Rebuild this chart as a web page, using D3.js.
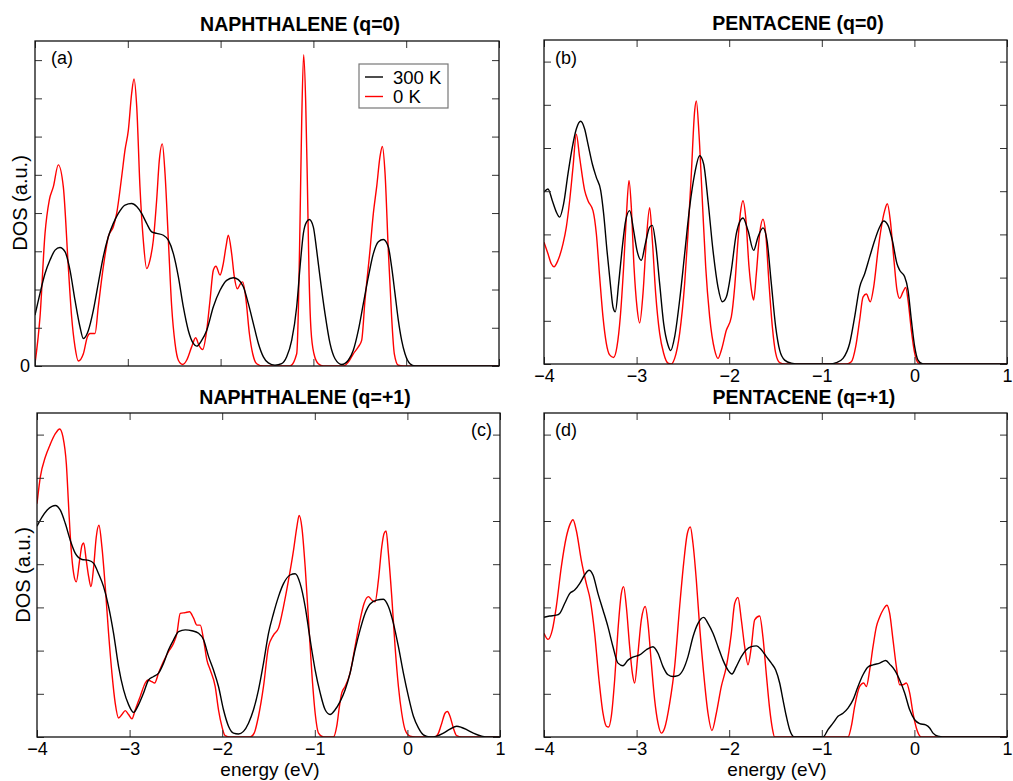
<!DOCTYPE html>
<html>
<head>
<meta charset="utf-8">
<script src="https://cdn.jsdelivr.net/npm/d3@7"></script>
<style>
  body { margin: 0; background: #fff; }
  svg { display: block; font-family: "Liberation Sans", Arial, sans-serif; }
</style>
</head>
<body>
<div id="chart"></div>
<script>
// energies (eV) and DOS (a.u.)

// (a) naphthalene q=0
const naph0_E300 = [-4.0,-3.946,-3.892,-3.838,-3.784,-3.731,-3.677,-3.623,-3.569,-3.515,-3.479,-3.425,-3.371,-3.318,-3.264,-3.21,-3.156,-3.102,-3.03,-2.958,-2.904,-2.851,-2.797,-2.743,-2.689,-2.617,-2.563,-2.509,-2.455,-2.402,-2.348,-2.294,-2.258,-2.204,-2.15,-2.078,-2.006,-1.935,-1.863,-1.809,-1.755,-1.701,-1.647,-1.593,-1.539,-1.486,-1.414,-1.342,-1.288,-1.234,-1.18,-1.144,-1.108,-1.073,-1.044,-1.001,-0.965,-0.929,-0.875,-0.821,-0.767,-0.695,-0.624,-0.57,-0.516,-0.462,-0.408,-0.354,-0.3,-0.246,-0.193,-0.157,-0.121,-0.085,-0.049,-0.013,0.041,0.095,1.0]
const naph0_D300 = [1.33,1.90,2.42,2.77,3.03,3.10,2.99,2.51,1.72,1.02,0.72,0.93,1.46,2.16,2.86,3.38,3.73,3.99,4.21,4.25,4.17,3.99,3.73,3.51,3.47,3.42,3.29,2.94,2.33,1.55,0.93,0.59,0.52,0.67,0.93,1.55,1.98,2.24,2.31,2.26,2.07,1.63,1.11,0.59,0.24,0.08,0.02,0.06,0.24,0.67,1.55,2.59,3.47,3.77,3.83,3.64,3.03,2.33,1.37,0.59,0.19,0.04,0.15,0.41,0.93,1.63,2.33,2.94,3.25,3.31,3.12,2.59,1.90,1.20,0.67,0.32,0.06,0,0]
const naph0_E0 = [-4.0,-3.946,-3.892,-3.846,-3.802,-3.749,-3.695,-3.641,-3.605,-3.569,-3.533,-3.479,-3.436,-3.407,-3.353,-3.318,-3.264,-3.21,-3.156,-3.12,-3.066,-3.03,-2.994,-2.958,-2.933,-2.904,-2.869,-2.833,-2.797,-2.761,-2.725,-2.689,-2.66,-2.628,-2.599,-2.563,-2.527,-2.491,-2.455,-2.409,-2.366,-2.312,-2.269,-2.233,-2.193,-2.15,-2.114,-2.078,-2.05,-2.006,-1.971,-1.942,-1.917,-1.881,-1.852,-1.82,-1.784,-1.762,-1.726,-1.69,-1.654,-1.611,-1.539,-1.252,-1.18,-1.162,-1.144,-1.126,-1.105,-1.083,-1.065,-1.047,-1.026,-0.994,-0.947,-0.893,-0.678,-0.624,-0.57,-0.516,-0.48,-0.444,-0.39,-0.354,-0.318,-0.282,-0.257,-0.228,-0.193,-0.157,-0.128,-0.085,-0.031,1.0]
const naph0_D0 = [0.06,1.28,3.47,4.34,4.69,5.26,4.69,2.59,1.28,0.50,0.13,0.32,0.76,0.85,0.85,1.55,2.59,3.38,3.64,3.99,4.95,5.65,6.17,7.14,7.51,6.79,4.69,3.29,2.55,2.77,3.29,4.34,5.39,5.81,5.04,3.29,1.55,0.59,0.15,0.04,0.15,0.50,0.74,0.54,0.43,0.93,1.72,2.51,2.61,2.38,2.68,3.12,3.42,2.94,2.33,2.02,2.16,2.20,1.72,0.85,0.32,0.06,0,0,0.32,1.45,3.80,6.40,8.14,6.90,4.80,2.40,0.95,0.32,0.06,0,0,0.10,0.32,0.50,0.67,1.72,3.03,3.99,4.69,5.48,5.74,5.04,3.03,1.28,0.32,0.02,0,0]

// (b) pentacene q=0
const pent0_E300 = [-4.0,-3.957,-3.91,-3.867,-3.831,-3.788,-3.741,-3.694,-3.651,-3.604,-3.561,-3.525,-3.478,-3.435,-3.388,-3.356,-3.32,-3.28,-3.255,-3.23,-3.194,-3.158,-3.118,-3.075,-3.032,-2.996,-2.949,-2.906,-2.859,-2.83,-2.794,-2.751,-2.708,-2.661,-2.632,-2.589,-2.535,-2.481,-2.427,-2.373,-2.319,-2.276,-2.229,-2.175,-2.121,-2.074,-2.031,-1.977,-1.923,-1.851,-1.797,-1.736,-1.689,-1.635,-1.592,-1.545,-1.498,-1.455,-1.401,-1.329,-1.239,-0.915,-0.843,-0.771,-0.699,-0.645,-0.591,-0.537,-0.483,-0.429,-0.375,-0.332,-0.285,-0.238,-0.188,-0.159,-0.105,-0.069,-0.033,0.003,0.039,0.093,1.0]
const pent0_D300 = [3.98,4.05,3.78,3.52,3.40,3.71,4.40,5.02,5.44,5.62,5.44,5.09,4.63,4.32,4.02,3.48,2.63,1.78,1.32,1.21,1.86,2.63,3.32,3.55,3.09,2.63,2.40,2.78,3.17,3.21,2.78,1.86,0.94,0.44,0.31,0.63,1.48,2.55,3.63,4.40,4.82,4.63,3.78,2.63,1.78,1.44,1.55,2.17,3.02,3.38,3.09,2.63,2.94,3.15,2.86,1.86,0.86,0.32,0.09,0.02,0,0,0.03,0.13,0.48,1.09,1.78,2.09,2.48,2.86,3.17,3.31,3.21,2.86,2.32,2.17,2.02,1.71,1.02,0.40,0.09,0,0]
const pent0_E0 = [-4.0,-3.957,-3.921,-3.892,-3.849,-3.795,-3.759,-3.723,-3.687,-3.651,-3.615,-3.561,-3.525,-3.471,-3.435,-3.399,-3.363,-3.327,-3.291,-3.248,-3.212,-3.176,-3.14,-3.111,-3.082,-3.057,-3.028,-2.996,-2.967,-2.931,-2.895,-2.859,-2.83,-2.794,-2.751,-2.708,-2.661,-2.625,-2.589,-2.535,-2.481,-2.445,-2.409,-2.373,-2.355,-2.326,-2.29,-2.254,-2.211,-2.157,-2.121,-2.085,-2.031,-1.977,-1.941,-1.905,-1.88,-1.851,-1.822,-1.786,-1.754,-1.736,-1.707,-1.671,-1.635,-1.606,-1.57,-1.534,-1.498,-1.455,-1.401,-0.735,-0.681,-0.634,-0.591,-0.555,-0.519,-0.476,-0.44,-0.393,-0.357,-0.321,-0.292,-0.26,-0.224,-0.188,-0.159,-0.123,-0.094,-0.069,-0.033,0.003,0.039,0.075,1.0]
const pent0_D0 = [2.82,2.55,2.32,2.25,2.40,2.78,3.17,3.78,4.55,5.32,4.78,4.02,3.78,3.55,3.02,2.02,1.09,0.48,0.21,0.15,0.40,1.09,2.25,3.40,4.25,3.63,2.25,1.32,0.95,1.63,2.86,3.62,2.86,1.63,0.71,0.25,0.02,0,0.13,0.71,1.86,3.02,4.40,5.86,6.09,5.32,3.78,2.25,1.09,0.32,0.13,0.32,0.78,1.09,1.78,2.86,3.48,3.78,3.40,2.25,1.63,1.48,2.09,3.02,3.35,3.02,1.86,0.86,0.25,0.03,0,0,0.05,0.40,1.02,1.55,1.62,1.44,1.78,2.63,3.17,3.55,3.71,3.32,2.48,1.71,1.52,1.67,1.77,1.48,0.78,0.25,0.03,0,0]

// (c) naphthalene q=+1
const naph1_E300 = [-4.0,-3.946,-3.892,-3.838,-3.802,-3.748,-3.694,-3.64,-3.586,-3.514,-3.442,-3.388,-3.335,-3.281,-3.227,-3.173,-3.119,-3.065,-3.011,-2.957,-2.903,-2.849,-2.795,-2.741,-2.687,-2.633,-2.579,-2.525,-2.471,-2.399,-2.327,-2.255,-2.201,-2.147,-2.094,-2.04,-1.986,-1.932,-1.878,-1.824,-1.77,-1.716,-1.662,-1.608,-1.554,-1.5,-1.446,-1.392,-1.338,-1.266,-1.212,-1.158,-1.104,-1.05,-0.996,-0.942,-0.888,-0.835,-0.781,-0.727,-0.673,-0.619,-0.565,-0.511,-0.457,-0.403,-0.331,-0.259,-0.205,-0.151,-0.097,-0.043,0.011,0.065,0.119,0.173,0.245,0.317,0.389,0.46,0.532,0.586,0.64,0.712,0.802,0.874,1.0]
const naph1_D300 = [4.88,5.09,5.25,5.34,5.36,5.25,4.94,4.55,4.25,4.11,4.09,4.02,3.78,3.48,3.02,2.40,1.63,1.09,0.75,0.57,0.75,1.02,1.32,1.40,1.48,1.71,2.02,2.25,2.44,2.48,2.46,2.40,2.25,1.86,1.55,1.17,0.63,0.25,0.09,0.07,0.13,0.32,0.63,1.09,1.71,2.40,2.86,3.25,3.55,3.75,3.78,3.55,3.02,2.25,1.55,1.02,0.63,0.52,0.63,0.82,1.09,1.48,2.02,2.48,2.86,3.08,3.17,3.19,3.02,2.63,2.09,1.48,0.94,0.48,0.21,0.05,0,0.02,0.09,0.18,0.25,0.22,0.17,0.09,0.02,0,0]
const naph1_E0 = [-4.0,-3.964,-3.91,-3.856,-3.802,-3.755,-3.719,-3.683,-3.658,-3.633,-3.604,-3.576,-3.54,-3.514,-3.496,-3.468,-3.442,-3.417,-3.388,-3.36,-3.331,-3.299,-3.263,-3.227,-3.191,-3.155,-3.119,-3.083,-3.047,-3.011,-2.975,-2.939,-2.885,-2.831,-2.802,-2.759,-2.73,-2.687,-2.633,-2.579,-2.525,-2.489,-2.453,-2.399,-2.353,-2.309,-2.273,-2.237,-2.201,-2.165,-2.129,-2.076,-2.04,-2.004,-1.968,-1.914,-1.698,-1.655,-1.608,-1.554,-1.5,-1.446,-1.392,-1.338,-1.284,-1.23,-1.194,-1.169,-1.14,-1.104,-1.068,-1.032,-0.996,-0.96,-0.906,-0.799,-0.763,-0.734,-0.709,-0.673,-0.619,-0.565,-0.511,-0.468,-0.421,-0.385,-0.349,-0.313,-0.277,-0.252,-0.23,-0.205,-0.169,-0.133,-0.097,-0.061,-0.025,0.029,0.083,0.299,0.335,0.371,0.406,0.432,0.46,0.496,0.532,0.586,1.0]
const naph1_D0 = [5.40,6.02,6.48,6.78,7.02,7.13,6.94,6.32,5.32,4.40,3.78,3.59,4.09,4.44,4.49,4.09,3.71,3.48,3.94,4.63,4.90,4.40,3.48,2.40,1.48,0.78,0.44,0.52,0.61,0.52,0.42,0.63,0.94,1.25,1.32,1.28,1.25,1.48,1.75,1.98,2.17,2.40,2.86,2.88,2.90,2.75,2.59,2.59,2.25,1.78,1.55,1.17,0.63,0.25,0.03,0,0,0.09,0.48,1.17,2.09,2.36,2.52,3.02,3.63,4.32,4.86,5.13,4.86,3.94,2.71,1.48,0.55,0.09,0,0,0.25,0.71,1.02,1.17,1.48,2.09,2.71,3.09,3.25,3.17,3.13,3.63,4.40,4.71,4.77,4.25,3.25,2.09,1.17,0.55,0.17,0.02,0,0,0.09,0.32,0.55,0.59,0.48,0.21,0.03,0,0]

// (d) pentacene q=+1
const pent1_E300 = [-4.0,-3.939,-3.867,-3.831,-3.777,-3.723,-3.669,-3.615,-3.561,-3.514,-3.471,-3.417,-3.363,-3.309,-3.255,-3.201,-3.147,-3.093,-3.039,-2.967,-2.895,-2.823,-2.769,-2.715,-2.661,-2.607,-2.553,-2.499,-2.445,-2.391,-2.337,-2.276,-2.229,-2.175,-2.121,-2.067,-2.013,-1.97,-1.923,-1.869,-1.815,-1.761,-1.707,-1.653,-1.599,-1.545,-1.498,-1.455,-1.419,-1.383,-1.347,-1.293,-0.987,-0.933,-0.879,-0.825,-0.771,-0.717,-0.663,-0.609,-0.555,-0.501,-0.447,-0.375,-0.31,-0.26,-0.213,-0.159,-0.105,-0.051,0.003,0.057,0.122,0.165,0.201,0.255,0.345,1.0]
const pent1_D300 = [2.77,2.80,2.82,2.86,3.09,3.32,3.40,3.55,3.75,3.86,3.75,3.32,2.94,2.55,2.09,1.71,1.65,1.78,1.85,1.90,2.02,2.09,1.94,1.63,1.44,1.40,1.42,1.55,1.86,2.32,2.63,2.77,2.63,2.40,2.09,1.78,1.55,1.46,1.63,1.86,2.02,2.09,2.11,2.02,1.86,1.71,1.55,1.25,0.86,0.48,0.17,0,0,0.17,0.32,0.48,0.55,0.67,0.86,1.17,1.44,1.62,1.67,1.71,1.77,1.67,1.55,1.32,1.02,0.63,0.40,0.31,0.28,0.21,0.09,0.02,0,0]
const pent1_E0 = [-4.0,-3.957,-3.91,-3.867,-3.813,-3.759,-3.716,-3.687,-3.651,-3.597,-3.543,-3.5,-3.453,-3.406,-3.363,-3.327,-3.302,-3.273,-3.237,-3.201,-3.165,-3.14,-3.111,-3.075,-3.046,-3.021,-2.985,-2.949,-2.906,-2.877,-2.841,-2.805,-2.769,-2.733,-2.697,-2.643,-2.589,-2.535,-2.492,-2.452,-2.42,-2.391,-2.355,-2.319,-2.276,-2.229,-2.186,-2.139,-2.085,-2.031,-1.977,-1.941,-1.905,-1.869,-1.833,-1.797,-1.761,-1.725,-1.671,-1.635,-1.599,-1.563,-1.534,-1.509,-0.717,-0.681,-0.645,-0.591,-0.548,-0.519,-0.483,-0.447,-0.411,-0.375,-0.339,-0.296,-0.267,-0.231,-0.195,-0.159,-0.123,-0.087,-0.051,-0.015,0.021,0.075,1.0]
const pent1_D0 = [2.40,2.26,2.48,3.02,3.94,4.63,4.94,5.03,4.78,4.09,3.55,3.17,2.40,1.32,0.55,0.25,0.23,0.48,1.32,2.48,3.32,3.48,3.02,2.09,1.48,1.25,1.94,2.71,3.02,2.63,1.71,0.86,0.32,0.09,0.21,0.78,1.63,3.02,4.02,4.71,4.86,4.48,3.63,2.55,1.48,0.55,0.15,0.55,1.17,1.63,2.40,3.09,3.23,2.71,2.09,1.67,2.09,2.71,2.80,2.30,1.45,0.65,0.20,0,0,0.25,0.71,1.17,1.25,1.17,1.55,2.09,2.55,2.78,2.94,3.05,2.86,2.25,1.63,1.21,1.21,1.25,1.02,0.55,0.21,0,0]

const xTicks = [-4, -3, -2, -1, 0, 1]
const legendLabels = ['300 K', '0 K']
const colors = { hot: '#000000', cold: '#ff0000' }

// panels layout
const panels = [
  { x0: 35, x1: 499, y0: 41, y1: 366, ymax: 8.5, title: 'NAPHTHALENE (q=0)', tx: 300, ty: 31,
    tag: '(a)', tagX: 51, tagY: 64, tagAnchor: 'start', xLabels: false, zero: true, ylab: [27, 203], xlab: null,
    legend: true, hotE: naph0_E300, hotD: naph0_D300, coldE: naph0_E0, coldD: naph0_D0 },
  { x0: 544, x1: 1007, y0: 40, y1: 364, ymax: 7.5, title: 'PENTACENE (q=0)', tx: 798, ty: 30,
    tag: '(b)', tagX: 555, tagY: 64, tagAnchor: 'start', xLabels: true, zero: false, ylab: null, xlab: null,
    legend: false, hotE: pent0_E300, hotD: pent0_D300, coldE: pent0_E0, coldD: pent0_D0 },
  { x0: 37, x1: 500, y0: 413, y1: 737, ymax: 7.5, title: 'NAPHTHALENE (q=+1)', tx: 305, ty: 404,
    tag: '(c)', tagX: 492, tagY: 436, tagAnchor: 'end', xLabels: true, zero: false, ylab: [30, 575], xlab: [270, 776],
    legend: false, hotE: naph1_E300, hotD: naph1_D300, coldE: naph1_E0, coldD: naph1_D0 },
  { x0: 544, x1: 1007, y0: 413, y1: 737, ymax: 7.5, title: 'PENTACENE (q=+1)', tx: 804, ty: 404,
    tag: '(d)', tagX: 555, tagY: 436, tagAnchor: 'start', xLabels: true, zero: false, ylab: null, xlab: [777, 776],
    legend: false, hotE: pent1_E300, hotD: pent1_D300, coldE: pent1_E0, coldD: pent1_D0 }
]

const svg = d3.select('#chart').append('svg')
  .attr('width', 1013)
  .attr('height', 781)

panels.forEach((p, i) => {
  const x = d3.scaleLinear().domain([-4, 1]).range([p.x0, p.x1])
  const y = d3.scaleLinear().domain([0, p.ymax]).range([p.y1, p.y0])
  const yTicks = d3.range(0, Math.floor(p.ymax) + 1)

  const g = svg.append('g')

  // clip
  svg.append('clipPath').attr('id', 'clip' + i)
    .append('rect')
    .attr('x', p.x0).attr('y', p.y0)
    .attr('width', p.x1 - p.x0).attr('height', p.y1 - p.y0)

  const line = d3.line()
    .x(d => x(d[0]))
    .y(d => y(d[1]))
    .curve(d3.curveMonotoneX)

  // 0 K red first, 300 K black on top
  g.append('path')
    .datum(d3.zip(p.coldE, p.coldD))
    .attr('clip-path', 'url(#clip' + i + ')')
    .attr('fill', 'none')
    .attr('stroke', colors.cold)
    .attr('stroke-width', 1.4)
    .attr('d', line)

  g.append('path')
    .datum(d3.zip(p.hotE, p.hotD))
    .attr('clip-path', 'url(#clip' + i + ')')
    .attr('fill', 'none')
    .attr('stroke', colors.hot)
    .attr('stroke-width', 1.4)
    .attr('d', line)

  // axes, ticks pointing in
  const ax = (sel, gen, tx, ty) => {
    const a = sel.append('g').attr('transform', `translate(${tx},${ty})`).call(gen)
    a.select('.domain').remove()
    a.selectAll('line').attr('stroke', '#333').attr('stroke-width', 1)
    a.selectAll('text').attr('font-size', 18).attr('fill', '#000')
    return a
  }

  ax(g, d3.axisBottom(x).tickValues(xTicks).tickSize(-7).tickPadding(5)
    .tickFormat(d => p.xLabels ? d3.format('d')(d) : ''), 0, p.y1)
  ax(g, d3.axisTop(x).tickValues(xTicks).tickSize(-7).tickFormat(''), 0, p.y0)
  ax(g, d3.axisLeft(y).tickValues(yTicks).tickSize(-7).tickPadding(5)
    .tickFormat(d => (p.zero && d === 0) ? '0' : ''), p.x0, 0)
  ax(g, d3.axisRight(y).tickValues(yTicks).tickSize(-7).tickFormat(''), p.x1, 0)

  // frame
  g.append('rect')
    .attr('x', p.x0).attr('y', p.y0)
    .attr('width', p.x1 - p.x0).attr('height', p.y1 - p.y0)
    .attr('fill', 'none')
    .attr('stroke', '#111')
    .attr('stroke-width', 1.3)

  g.append('text')
    .attr('x', p.tx).attr('y', p.ty)
    .attr('text-anchor', 'middle')
    .attr('font-size', 19.5)
    .attr('font-weight', 'bold')
    .text(p.title)

  g.append('text')
    .attr('x', p.tagX).attr('y', p.tagY)
    .attr('text-anchor', p.tagAnchor)
    .attr('font-size', 18)
    .text(p.tag)

  if (p.ylab) {
    g.append('text')
      .attr('transform', `translate(${p.ylab[0]},${p.ylab[1]}) rotate(-90)`)
      .attr('text-anchor', 'middle')
      .attr('font-size', 20)
      .text('DOS (a.u.)')
  }
  if (p.xlab) {
    g.append('text')
      .attr('x', p.xlab[0]).attr('y', p.xlab[1])
      .attr('text-anchor', 'middle')
      .attr('font-size', 19)
      .text('energy (eV)')
  }

  if (p.legend) {
    const lg = g.append('g')
    lg.append('rect')
      .attr('x', 359).attr('y', 64).attr('width', 89).attr('height', 44)
      .attr('fill', '#fff').attr('stroke', '#777').attr('stroke-width', 1.2)
    legendLabels.forEach((t, k) => {
      const yy = 77 + k * 19.5
      lg.append('line')
        .attr('x1', 365).attr('x2', 383).attr('y1', yy).attr('y2', yy)
        .attr('stroke', k === 0 ? colors.hot : colors.cold).attr('stroke-width', 1.4)
      lg.append('text')
        .attr('x', 393).attr('y', yy + 6.5)
        .attr('font-size', 18.5)
        .text(t)
    })
  }
})
</script>
</body>
</html>
